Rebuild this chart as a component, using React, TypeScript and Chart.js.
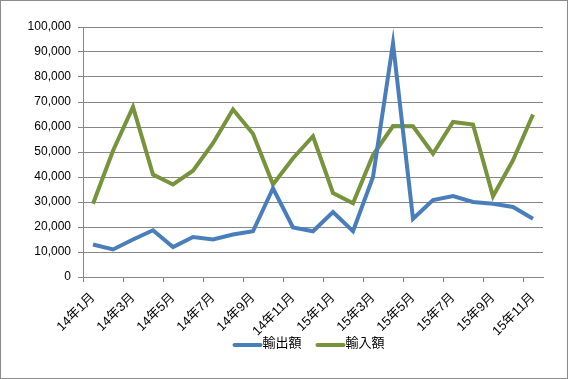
import React, { useEffect, useRef } from "react";
import { Chart, registerables } from "chart.js";

Chart.register(...registerables);

const months: string[] = [
  "14年1月", "14年2月", "14年3月", "14年4月", "14年5月", "14年6月", "14年7月", "14年8月",
  "14年9月", "14年10月", "14年11月", "14年12月", "15年1月", "15年2月", "15年3月", "15年4月",
  "15年5月", "15年6月", "15年7月", "15年8月", "15年9月", "15年10月", "15年11月",
];

const exportValues: number[] = [
  13000, 11000, 15000, 18700, 12000, 16000, 15000, 17000, 18300, 35500, 19800, 18300,
  26000, 18300, 40000, 93500, 23300, 30800, 32400, 30000, 29300, 28000, 23300,
];

const importValues: number[] = [
  29300, 50500, 68000, 41000, 37000, 42500, 53500, 67000, 57300, 37000, 47500, 56300,
  33600, 29500, 48800, 60400, 60300, 49300, 62000, 61000, 32300, 46700, 65000,
];

const yTicks: number[] = [0, 10000, 20000, 30000, 40000, 50000, 60000, 70000, 80000, 90000, 100000];

const FONT = "'Liberation Sans', 'Noto Sans CJK JP', sans-serif";
const GRID = "#868686";

const borderPlugin = {
  id: "outerBorder",
  afterDraw(chart: any) {
    const { ctx, width, height } = chart;
    ctx.save();
    ctx.strokeStyle = "#8c8c8c";
    ctx.lineWidth = 1;
    ctx.strokeRect(0.5, 0.5, width - 1, height - 1);
    ctx.restore();
  },
};

const legendPlugin = {
  id: "lineLegend",
  afterDraw(chart: any) {
    const { ctx, chartArea } = chart;
    const lineW = 28;
    const gapText = 1;
    const gapItem = 15;
    ctx.save();
    ctx.font = `13px ${FONT}`;
    const items = chart.data.datasets.map((d: any) => ({
      label: d.label as string,
      color: d.borderColor as string,
      w: ctx.measureText(d.label).width,
    }));
    const total =
      items.reduce((s: number, it: any) => s + lineW + gapText + it.w, 0) + gapItem * (items.length - 1);
    const cx = (chartArea.left + chartArea.right) / 2 - 4;
    let x = cx - total / 2;
    const yLine = chartArea.bottom + 68;
    const yText = chartArea.bottom + 66;
    items.forEach((it: any) => {
      ctx.strokeStyle = it.color;
      ctx.lineWidth = 4;
      ctx.lineCap = "round";
      ctx.beginPath();
      ctx.moveTo(x + 1, yLine);
      ctx.lineTo(x + lineW - 1, yLine);
      ctx.stroke();
      ctx.fillStyle = "#000";
      ctx.textBaseline = "middle";
      ctx.textAlign = "left";
      ctx.fillText(it.label, x + lineW + gapText, yText);
      x += lineW + gapText + it.w + gapItem;
    });
    ctx.restore();
  },
};

export default function App() {
  const ref = useRef<HTMLCanvasElement | null>(null);

  useEffect(() => {
    document.body.style.margin = "0";
    if (!ref.current) return;
    const chart = new Chart(ref.current, {
      type: "line",
      data: {
        labels: months,
        datasets: [
          {
            label: "輸出額",
            data: exportValues,
            borderColor: "#4A7EBB",
            backgroundColor: "#4A7EBB",
            borderWidth: 4,
            pointRadius: 0,
            tension: 0,
          },
          {
            label: "輸入額",
            data: importValues,
            borderColor: "#77933C",
            backgroundColor: "#77933C",
            borderWidth: 4,
            pointRadius: 0,
            tension: 0,
          },
        ],
      },
      options: {
        animation: false,
        responsive: false,
        devicePixelRatio: 1,
        layout: { padding: { top: 27, right: 25, left: 0, bottom: 42 } },
        plugins: {
          tooltip: { enabled: false },
          legend: { display: false },
        },
        scales: {
          x: {
            type: "category",
            offset: true,
            grid: {
              offset: true,
              drawOnChartArea: false,
              drawTicks: true,
              tickLength: 5,
              color: (c: any) => (c.index % 2 === 0 ? GRID : "rgba(0,0,0,0)"),
            },
            border: { display: true, color: GRID },
            ticks: {
              autoSkip: false,
              maxRotation: 45,
              minRotation: 45,
              padding: 8,
              color: "#000",
              font: { family: FONT, size: 13 },
              callback: (_v: any, i: number) => (i % 2 === 0 ? months[i] : ""),
            },
            afterFit: (s: any) => {
              s.height = 60;
            },
          },
          y: {
            min: 0,
            max: 100000,
            afterBuildTicks: (s: any) => {
              s.ticks = yTicks.map((v) => ({ value: v }));
            },
            grid: { color: GRID, tickLength: 5, drawTicks: true },
            border: { display: true, color: GRID },
            ticks: {
              padding: 7,
              color: "#000",
              font: { family: FONT, size: 12 },
              callback: (v: any) => Number(v).toLocaleString("en-US"),
            },
            afterFit: (s: any) => {
              s.width = 83;
            },
          },
        },
      },
      plugins: [borderPlugin, legendPlugin],
    });
    return () => chart.destroy();
  }, []);

  return <canvas ref={ref} width={568} height={379} style={{ display: "block" }} />;
}
